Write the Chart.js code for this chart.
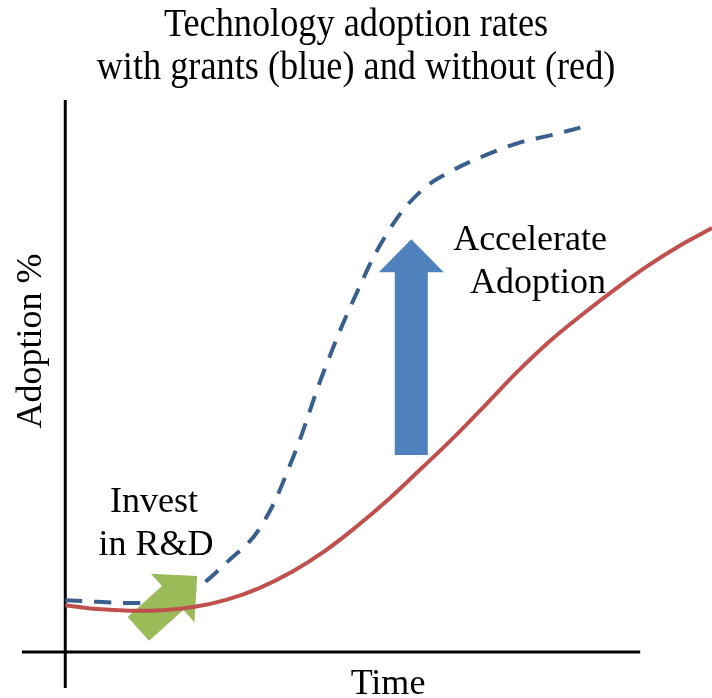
<!DOCTYPE html>
<html>
<head>
<meta charset="utf-8">
<title>Technology adoption rates</title>
<script src="https://cdn.jsdelivr.net/npm/chart.js@4.4.1/dist/chart.umd.min.js"></script>
<style>
    html, body { margin: 0; padding: 0; background: #fff; }
    #wrap { width: 712px; height: 698px; position: relative; }
</style>
</head>
<body>
<div id="wrap"><canvas id="adoptionChart"></canvas></div>
<script>
// time steps (arbitrary units, axis at 0)
const timePoints = [0, 5, 10, 15, 20, 25, 30, 35, 40, 45, 50, 55, 60, 65, 70, 75, 80, 85, 90, 95, 100];
// adoption % without grants (red)
const withoutGrants = [8.5, 7.8, 7.5, 7.6, 8.2, 9.5, 11.6, 14.5, 18.2, 22.7, 27.7, 33.2, 38.8, 44.8, 50.9, 56.4, 61.2, 65.7, 69.9, 73.6, 76.8];
// adoption % with grants (blue), line stops at t = 80
const withGrants = [9.4, 9.1, 8.9, 9.2, 11.4, 16.3, 22.3, 34.6, 50.9, 64.9, 76.3, 83.5, 87.3, 90.0, 92.2, 93.6, 95.1, null, null, null, null];

const titleLines = ['Technology adoption rates', 'with grants (blue) and without (red)'];

const SERIF = '"Liberation Serif", "Times New Roman", serif';

document.addEventListener('DOMContentLoaded', () => {
    const canvas = document.getElementById('adoptionChart');

    const toPoints = (vals) => timePoints
        .map((t, i) => ({ x: t, y: vals[i] }))
        .filter(p => p.y !== null);

    function drawArrow(ctx, x1, y1, x2, y2, shaftW, headW, headL, color) {
        const dx = x2 - x1, dy = y2 - y1;
        const len = Math.hypot(dx, dy);
        const ux = dx / len, uy = dy / len;
        const nx = -uy, ny = ux;
        const bx = x2 - ux * headL, by = y2 - uy * headL;
        ctx.save();
        ctx.fillStyle = color;
        ctx.beginPath();
        ctx.moveTo(x1 + nx * shaftW / 2, y1 + ny * shaftW / 2);
        ctx.lineTo(bx + nx * shaftW / 2, by + ny * shaftW / 2);
        ctx.lineTo(bx + nx * headW / 2, by + ny * headW / 2);
        ctx.lineTo(x2, y2);
        ctx.lineTo(bx - nx * headW / 2, by - ny * headW / 2);
        ctx.lineTo(bx - nx * shaftW / 2, by - ny * shaftW / 2);
        ctx.lineTo(x1 - nx * shaftW / 2, y1 - ny * shaftW / 2);
        ctx.closePath();
        ctx.fill();
        ctx.restore();
    }

    const sketchPlugin = {
        id: 'sketch',
        beforeDatasetsDraw(chart) {
            const { ctx, scales: { x, y } } = chart;
            ctx.save();
            ctx.strokeStyle = '#000';
            ctx.lineWidth = 3;
            ctx.beginPath();
            // y axis
            ctx.moveTo(x.getPixelForValue(0), y.getPixelForValue(100));
            ctx.lineTo(x.getPixelForValue(0), y.getPixelForValue(-6.5));
            // x axis
            ctx.moveTo(x.getPixelForValue(-6.7), y.getPixelForValue(0));
            ctx.lineTo(x.getPixelForValue(88.9), y.getPixelForValue(0));
            ctx.stroke();
            ctx.restore();
        },
        beforeDatasetDraw(chart, args) {
            // green "invest" arrow sits above the blue line but under the red one
            if (args.index !== 0) return;
            const { ctx, scales: { x, y } } = chart;
            drawArrow(ctx,
                x.getPixelForValue(11.3), y.getPixelForValue(4.2),
                x.getPixelForValue(20.4), y.getPixelForValue(13.8),
                32, 65, 33, '#9BBB59');
        },
        afterDatasetsDraw(chart) {
            const { ctx, scales: { x, y } } = chart;
            drawArrow(ctx,
                x.getPixelForValue(53.5), y.getPixelForValue(35.7),
                x.getPixelForValue(53.5), y.getPixelForValue(74.8),
                33, 65, 33, '#4F81BD');

            ctx.save();
            ctx.fillStyle = '#000';
            ctx.textBaseline = 'alphabetic';

            // title, slightly condensed serif
            ctx.save();
            ctx.font = '39px ' + SERIF;
            ctx.textAlign = 'center';
            ctx.translate(356, 0);
            ctx.scale(0.93, 1);
            ctx.fillText(titleLines[0], 0, 36);
            ctx.fillText(titleLines[1], 0, 79);
            ctx.restore();

            ctx.font = '36px ' + SERIF;
            ctx.textAlign = 'center';
            ctx.fillText('Invest', 154, 512);
            ctx.fillText('in R&D', 156, 555);
            ctx.fillText('Time', 388, 694);

            ctx.textAlign = 'right';
            ctx.fillText('Accelerate', 607, 250);
            ctx.fillText('Adoption', 606, 293);

            ctx.translate(41, 341);
            ctx.rotate(-Math.PI / 2);
            ctx.textAlign = 'center';
            ctx.fillText('Adoption %', 0, 0);
            ctx.restore();
        }
    };

    new Chart(canvas, {
        type: 'line',
        data: {
            datasets: [{
                label: 'Without grants',
                data: toPoints(withoutGrants),
                borderColor: '#C0504D',
                borderWidth: 4,
                pointRadius: 0,
                tension: 0.4,
                fill: false
            }, {
                label: 'With grants',
                data: toPoints(withGrants),
                borderColor: '#395F8E',
                borderWidth: 4,
                borderDash: [17, 12],
                pointRadius: 0,
                tension: 0.4,
                fill: false
            }]
        },
        options: {
            responsive: true,
            maintainAspectRatio: false,
            animation: false,
            layout: { padding: { left: 20, right: 0, top: 100, bottom: 10 } },
            scales: {
                x: { type: 'linear', min: -7, max: 100, display: false },
                y: { min: -6.5, max: 100, display: false }
            },
            plugins: {
                legend: { display: false },
                tooltip: { enabled: false },
                title: { display: false }
            }
        },
        plugins: [sketchPlugin]
    });
});
</script>
</body>
</html>
